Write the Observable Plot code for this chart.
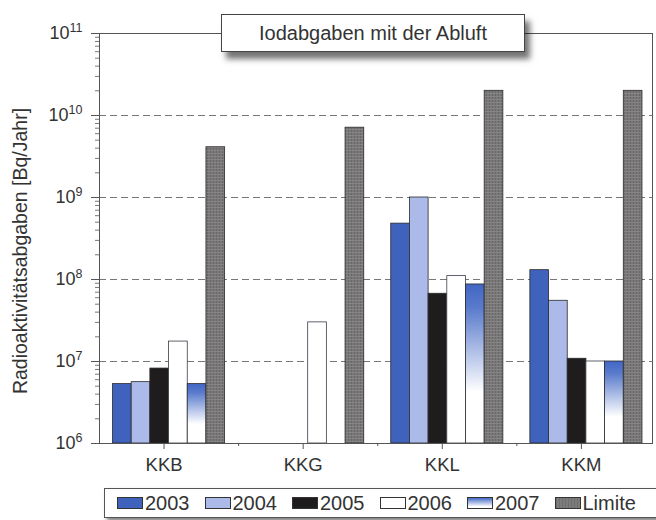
<!DOCTYPE html>
<html>
<head>
<meta charset="utf-8">
<script src="https://cdn.jsdelivr.net/npm/d3@7"></script>
<script src="https://cdn.jsdelivr.net/npm/@observablehq/plot@0.6"></script>
<style>
  html, body { margin: 0; padding: 0; background: #fff; }
  #wrap { position: relative; width: 656px; height: 520px; font-family: "Liberation Sans", Arial, sans-serif; color: #333; overflow: hidden; }
  #chart { position: absolute; left: 0; top: 0; }
  #title { position: absolute; left: 221px; top: 14px; width: 302px; height: 36px; border: 1px solid #444; background: #fff;
           box-shadow: 5px 7px 6px rgba(0,0,0,0.55); font-size: 20px; line-height: 36px; text-align: center; color: #333; }
  #ylabel { position: absolute; left: -180px; top: 241px; width: 400px; height: 20px; line-height: 20px; font-size: 19.5px;
            text-align: center; transform: rotate(-90deg); color: #333; white-space: nowrap; }
  #legend { position: absolute; left: 104px; top: 488px; width: 546px; height: 28px; border: 1px solid #555; background: #fff;
            box-shadow: 3px 3px 4px rgba(0,0,0,0.5); display: flex; align-items: center; padding-left: 12px; box-sizing: content-box; }
  #legend .item { display: flex; align-items: center; margin-right: 15px; font-size: 20px; color: #333; }
  #legend .sw { width: 26px; height: 12px; border: 1px solid #333; margin-right: 2px; box-sizing: border-box; }
</style>
</head>
<body>
<div id="wrap">
  <div id="chart"></div>
  <div id="ylabel"></div>
  <div id="title"></div>
  <div id="legend"></div>
</div>
<script>
// ---- data ----
const titleText = "Iodabgaben mit der Abluft";
const yLabel = "Radioaktivitätsabgaben [Bq/Jahr]";
const categories = ["KKB", "KKG", "KKL", "KKM"];
const series = ["2003", "2004", "2005", "2006", "2007", "Limite"];
const v2003   = [5.3e6, null, 4.8e8, 1.3e8];
const v2004   = [5.6e6, null, 1.0e9, 5.5e7];
const v2005   = [8.2e6, null, 6.7e7, 1.08e7];
const v2006   = [1.75e7, 3.0e7, 1.1e8, 1.0e7];
const v2007   = [5.3e6, null, 8.7e7, 1.0e7];
const vLimite = [4.1e9, 7.1e9, 2.0e10, 2.0e10];
const yTicks = [1e6, 1e7, 1e8, 1e9, 1e10, 1e11];
const gridValues = [1e7, 1e8, 1e9, 1e10];

// ---- styles ----
const fills = {
  "2003": "#3f62bd",
  "2004": "#abbae8",
  "2005": "#1e1c1c",
  "2006": "#ffffff",
  "2007": "url(#grad2007)",
  "Limite": "url(#limiteTex)"
};
const legendFills = {
  "2003": "#3f62bd",
  "2004": "#abbae8",
  "2005": "#1e1c1c",
  "2006": "#ffffff",
  "2007": "linear-gradient(to bottom, #4469c6, #ffffff 85%)",
  "Limite": "repeating-linear-gradient(90deg, #6e6e6e 0 1px, #7c7c7c 1px 3px)"
};

// ---- table ----
const valuesBySeries = [v2003, v2004, v2005, v2006, v2007, vLimite];
const rows = [];
series.forEach((s, j) => valuesBySeries[j].forEach((v, i) => {
  if (v != null) rows.push({cat: categories[i], ci: i, s, si: j, value: v});
}));
const groupWidth = 0.806;
const barW = groupWidth / series.length;
const minorX = categories.slice(1).map((_, i) => i + 0.5);
const minorY = [];
yTicks.slice(0, -1).forEach(d => [2,3,4,5,6,7,8,9].forEach(k => minorY.push(d * k)));

const svg = Plot.plot({
  width: 656,
  height: 480,
  marginLeft: 99,
  marginRight: 4,
  marginTop: 33,
  marginBottom: 37,
  style: {fontFamily: "'Liberation Sans', Arial, sans-serif", fontSize: "17.5px", color: "#444", background: "transparent"},
  x: {domain: [-0.5, 3.475]},
  y: {type: "log", domain: [1e6, 1e11]},
  color: {type: "identity"},
  marks: [
    Plot.ruleY(gridValues, {stroke: "#777", strokeDasharray: "7,4", strokeWidth: 1}),
    Plot.rectY(rows, {
      x1: d => d.ci - groupWidth / 2 + d.si * barW,
      x2: d => d.ci - groupWidth / 2 + (d.si + 1) * barW,
      y1: 1e6,
      y2: "value",
      fill: d => fills[d.s],
      stroke: d => d.s === "2006" ? "#3a3d4a" : "#2a2a2a",
      strokeWidth: 0.8
    }),
    Plot.frame({stroke: "#555"}),
    Plot.axisY({ticks: yTicks, tickSize: 8, tickPadding: 9, fontSize: 18, tickFormat: d => String(Math.round(Math.log10(d))), label: null, stroke: "#555"}),
    Plot.axisY({ticks: minorY, tickSize: 4, tickFormat: () => "", label: null, stroke: "#777"}),
    Plot.axisX({ticks: [0, 1, 2, 3], tickSize: 6, tickPadding: 8, dx: -5, tickFormat: i => categories[i], label: null, fontSize: 18.5, stroke: "#555"}),
    Plot.axisX({ticks: minorX, tickSize: 3, tickFormat: () => "", label: null, stroke: "#555"})
  ]
});

// defs: gradient + texture
const s = d3.select(svg);
const defs = s.insert("defs", ":first-child");
const g = defs.append("linearGradient").attr("id", "grad2007").attr("x1", 0).attr("y1", 0).attr("x2", 0).attr("y2", 1);
g.append("stop").attr("offset", 0).attr("stop-color", "#4166c4");
g.append("stop").attr("offset", 0.15).attr("stop-color", "#5a7bcc");
g.append("stop").attr("offset", 0.68).attr("stop-color", "#ffffff");
g.append("stop").attr("offset", 1).attr("stop-color", "#ffffff");
const p = defs.append("pattern").attr("id", "limiteTex").attr("patternUnits", "userSpaceOnUse").attr("width", 3).attr("height", 3);
p.append("rect").attr("width", 3).attr("height", 3).attr("fill", "#7a7878");
p.append("rect").attr("width", 1).attr("height", 3).attr("fill", "#686666");
p.append("rect").attr("width", 3).attr("height", 1).attr("fill", "#868484");

// superscript exponents on y tick labels
s.selectAll('g[aria-label="y-axis tick label"] text').each(function() {
  const t = d3.select(this);
  const e = t.text();
  if (!e) return;
  t.text("");
  t.style("font-size", "18px");
  t.append("tspan").style("font-size", "18px").text("10");
  t.append("tspan").attr("dy", "-0.62em").style("font-size", "12.5px").text(e);
});
s.selectAll('g[aria-label="x-axis tick label"] text').style("font-size", "18.5px");
s.selectAll('g[aria-label="y-axis tick label"] text, g[aria-label="x-axis tick label"] text').attr("fill", "#333");

document.getElementById("chart").appendChild(svg);
document.getElementById("title").textContent = titleText;
document.getElementById("ylabel").textContent = yLabel;

const legend = d3.select("#legend");
series.forEach(sname => {
  const it = legend.append("div").attr("class", "item");
  it.append("div").attr("class", "sw").style("background", legendFills[sname]);
  it.append("span").text(sname);
});
</script>
</body>
</html>
